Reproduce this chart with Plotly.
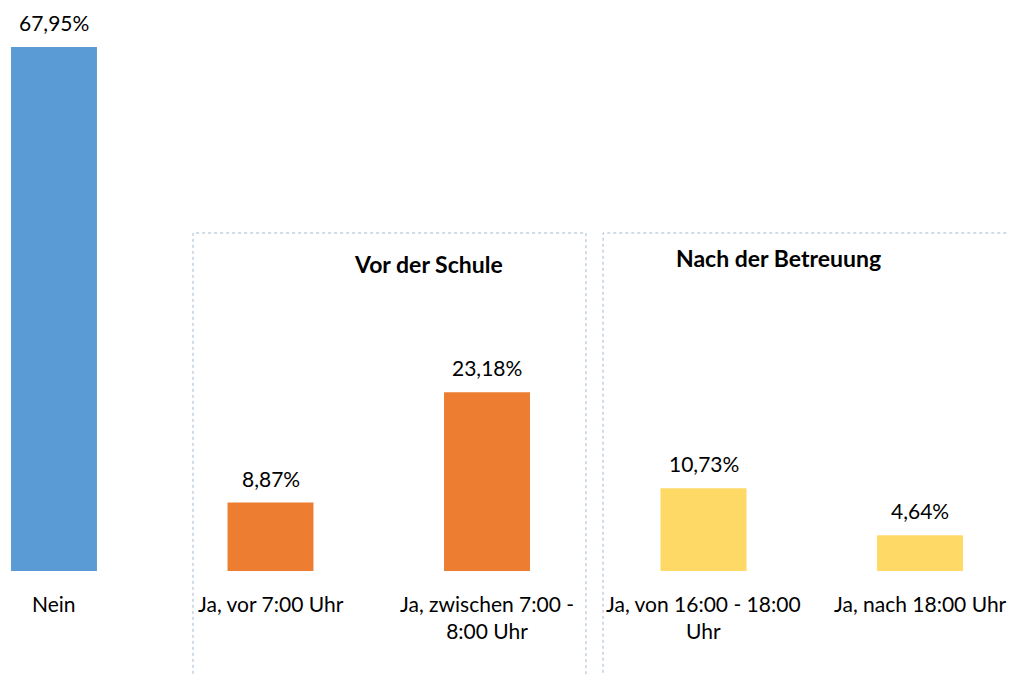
import plotly.graph_objects as go

categories = ["Nein", "Ja, vor 7:00 Uhr", "Ja, zwischen 7:00 -<br>8:00 Uhr",
              "Ja, von 16:00 - 18:00<br>Uhr", "Ja, nach 18:00 Uhr"]
values = [67.95, 8.87, 23.18, 10.73, 4.64]
colors = ["#5B9BD5", "#ED7D31", "#ED7D31", "#FFD966", "#FFD966"]
group_titles = ["Vor der Schule", "Nach der Betreuung"]

FONT = "Lato"
xs = list(range(len(categories)))

fig = go.Figure()
fig.add_trace(go.Bar(x=xs, y=values, marker=dict(color=colors, line=dict(width=0)),
                     width=0.397, hoverinfo="skip"))

annotations = []
for x, v, c in zip(xs, values, categories):
    annotations.append(dict(x=x, y=v, xref="x", yref="y", text=f"{v:.2f}".replace(".", ",") + "%",
                            showarrow=False, yanchor="bottom", yshift=10,
                            font=dict(family=FONT, size=21, color="#000000")))
    annotations.append(dict(x=x, y=0, xref="x", yref="y", text=c, showarrow=False,
                            yanchor="top", yshift=-18, align="center",
                            font=dict(family=FONT, size=21, color="#000000")))

# group titles
annotations.append(dict(x=1.728, y=39.8, xref="x", yref="y",
                        text=f"<b>{group_titles[0]}</b>", showarrow=False,
                        font=dict(family=FONT, size=23, color="#000000")))
annotations.append(dict(x=3.345, y=40.6, xref="x", yref="y",
                        text=f"<b>{group_titles[1]}</b>", showarrow=False,
                        font=dict(family=FONT, size=23, color="#000000")))

shapes = [
    dict(type="rect", xref="x", yref="y", x0=0.642, x1=2.457, y0=-20, y1=43.84,
         line=dict(color="#A3B9D2", width=1, dash="dot")),
    dict(type="rect", xref="x", yref="y", x0=2.536, x1=4.7, y0=-20, y1=43.84,
         line=dict(color="#A3B9D2", width=1, dash="dot")),
]

fig.update_layout(
    width=1009, height=674,
    margin=dict(l=0, r=0, t=0, b=0),
    paper_bgcolor="white", plot_bgcolor="white",
    showlegend=False,
    xaxis=dict(range=[-0.2494, 4.411], visible=False, fixedrange=True),
    yaxis=dict(range=[-13.36, 74.06], visible=False, fixedrange=True),
    annotations=annotations,
    shapes=shapes,
)

fig.write_html("out.html", config={"displayModeBar": False},
               post_script="document.body.style.margin='0';")
